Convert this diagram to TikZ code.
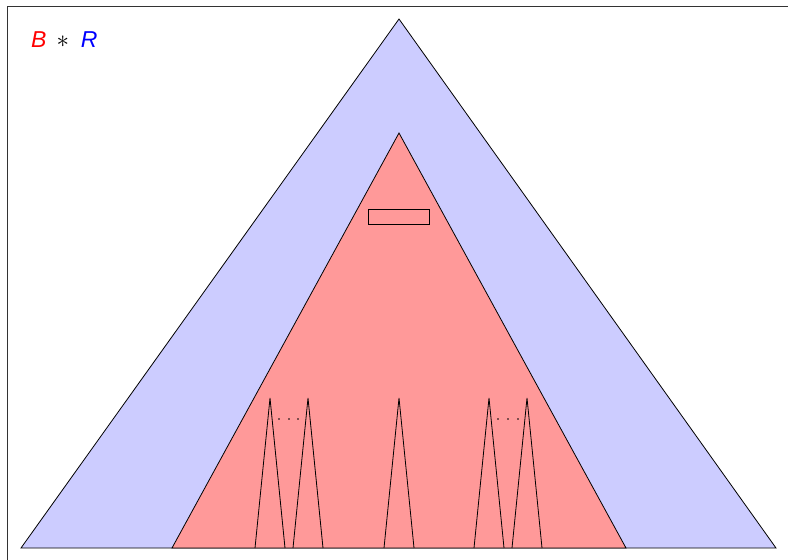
\documentclass[tikz,border=0pt]{standalone}
\usepackage{fontspec}
\setsansfont{Liberation Sans}
\begin{document}
\begin{tikzpicture}[x=1pt,y=-1pt,
  edge/.style={draw=black,line width=0.8pt},
  dotmark/.style={circle,fill=black,inner sep=0pt,minimum size=1.8pt}]
\useasboundingbox (0,0) rectangle (788,560);
% frame
\draw[black!80,line width=1pt] (7,560) -- (7,6) -- (790,6);
% outer triangle
\filldraw[fill=blue!20,edge] (399,19) -- (21,548) -- (776,548) -- cycle;
% inner triangle
\filldraw[fill=red!40,edge] (399,133) -- (172,548) -- (626,548) -- cycle;
% rectangle
\draw[edge] (368,209) rectangle (429,224);
% small triangles
\foreach \a in {270,308,399,489,527}{
  \draw[edge] (\a-15,548) -- (\a,398) -- (\a+15,548);
}
% dots
\foreach \d in {279,289,298,498,508,518}{
  \node[dotmark] (d\d) at (\d,419) {};
}
% label
\node[anchor=west,inner sep=0pt,font=\sffamily\fontsize{23}{27}\selectfont] (lbl) at (31,40)
  {\textcolor{red}{\itshape B}\hspace{10pt}{\color{black}$\ast$}\hspace{12pt}\textcolor{blue}{\itshape R}};
\end{tikzpicture}
\end{document}
